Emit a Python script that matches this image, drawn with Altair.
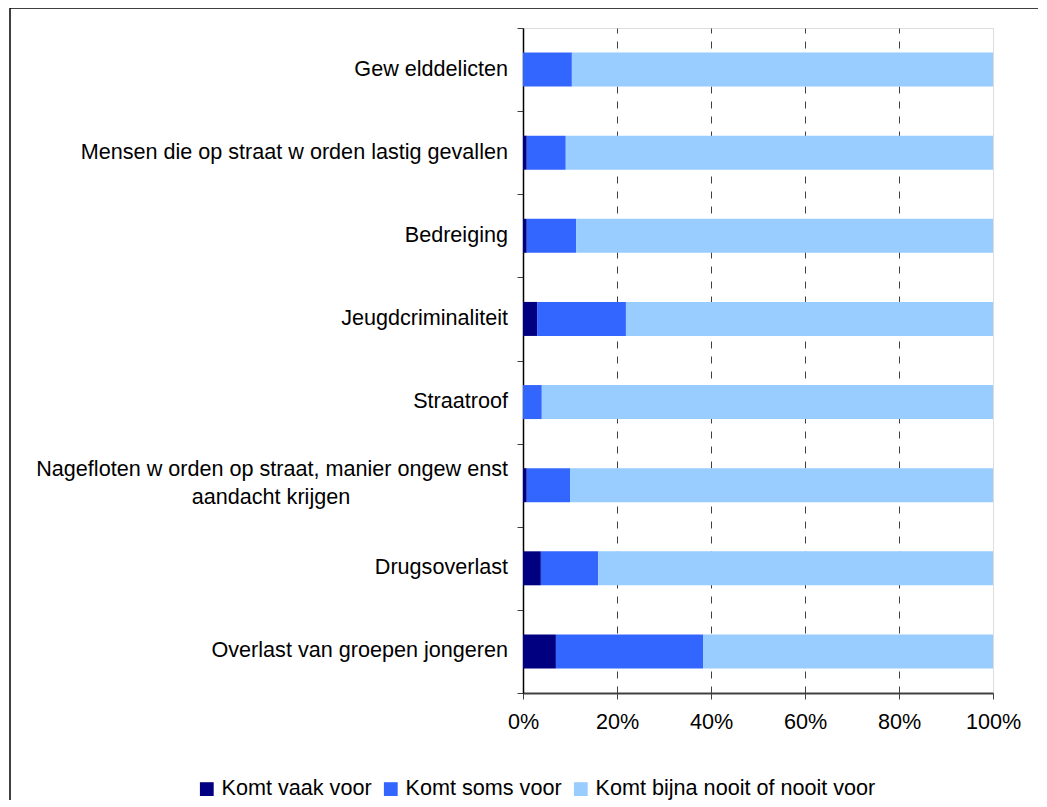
import altair as alt
import pandas as pd

categories = [
    "Gew elddelicten",
    "Mensen die op straat w orden lastig gevallen",
    "Bedreiging",
    "Jeugdcriminaliteit",
    "Straatroof",
    "Nagefloten w orden op straat, manier ongew enst",
    "Drugsoverlast",
    "Overlast van groepen jongeren",
]
second_lines = ["", "", "", "", "", "aandacht krijgen", "", ""]

series = ["Komt vaak voor", "Komt soms voor", "Komt bijna nooit of nooit voor"]
colors = ["#000080", "#3366FF", "#99CCFF"]

vaak = [0.0, 0.8, 0.8, 3.0, 0.0, 0.8, 3.8, 7.0]
soms = [10.4, 8.3, 10.5, 18.9, 4.0, 9.2, 12.2, 31.3]
nooit = [89.6, 90.9, 88.7, 78.1, 96.0, 90.0, 84.0, 61.7]

rows = []
for i, c in enumerate(categories):
    for j, (s, vals) in enumerate(zip(series, [vaak, soms, nooit])):
        rows.append({"cat": c, "serie": s, "order": j, "value": vals[i]})
df = pd.DataFrame(rows)

labels_df = pd.DataFrame({"cat": categories, "line2": second_lines})

FONT = "Liberation Sans"
FS = 21.6

y_enc = alt.Y("cat:N", sort=categories,
              scale=alt.Scale(paddingInner=0, paddingOuter=0),
              axis=alt.Axis(title=None, labels=False, tickBand="extent",
                            ticks=True, tickSize=6, tickColor="#404040",
                            domainColor="#000000", domainWidth=1.5, grid=False))

bars = alt.Chart(df).mark_bar(size=34).encode(
    x=alt.X("value:Q", stack="normalize",
            scale=alt.Scale(domain=[0, 1], nice=False),
            axis=alt.Axis(title=None, format=".0%", values=[0, 0.2, 0.4, 0.6, 0.8, 1.0],
                          grid=True, gridDash=[7, 8], gridColor="#404040", gridWidth=1,
                          gridOpacity={"condition": {"test": "datum.value == 0 || datum.value == 1", "value": 0}, "value": 1},
                          tickSize=6, tickColor="#404040", domainColor="#404040",
                          domainWidth=2, labelFontSize=FS, labelColor="#000000",
                          labelPadding=12, labelFont=FONT, labelFlush=False,
                          labelOverlap=False)),
    y=y_enc,
    color=alt.Color("serie:N", sort=series,
                    scale=alt.Scale(domain=series, range=colors),
                    legend=alt.Legend(title=None, orient="none", direction="horizontal",
                                      legendX=-327, legendY=750,
                                      symbolType="square", symbolSize=190,
                                      symbolStrokeWidth=0, labelFontSize=FS,
                                      labelFont=FONT, labelColor="#000000",
                                      labelLimit=500, columnPadding=8, labelOffset=4)),
    order=alt.Order("order:Q"),
)

text1 = alt.Chart(labels_df).transform_filter("datum.line2 == ''").mark_text(
    align="right", baseline="middle", fontSize=FS, font=FONT, color="#000000"
).encode(y=alt.Y("cat:N", sort=categories), x=alt.value(-15), text="cat:N")

text2a = alt.Chart(labels_df).transform_filter("datum.line2 != ''").mark_text(
    align="right", baseline="middle", fontSize=FS, font=FONT, color="#000000", dy=-15
).encode(y=alt.Y("cat:N", sort=categories), x=alt.value(-15), text="cat:N")

text2b = alt.Chart(labels_df).transform_filter("datum.line2 != ''").mark_text(
    align="center", baseline="middle", fontSize=FS, font=FONT, color="#000000", dy=13
).encode(y=alt.Y("cat:N", sort=categories), x=alt.value(-252), text="line2:N")

frame_data = alt.Data(values=[{"a": 1}])
frame_top = alt.Chart(frame_data).mark_rule(color="#000000", strokeWidth=1.5).encode(
    x=alt.value(-513), x2=alt.value(515), y=alt.value(-20))
frame_left = alt.Chart(frame_data).mark_rule(color="#000000", strokeWidth=1.5).encode(
    x=alt.value(-513), y=alt.value(-20), y2=alt.value(772))

chart = alt.layer(frame_top, frame_left, bars, text1, text2a, text2b).properties(
    width=470, height=665,
    autosize=alt.AutoSizeParams(type="none"),
    padding={"left": 515, "top": 20, "right": 46, "bottom": 108},
).configure_view(stroke="#808080", strokeWidth=2).configure(
    font=FONT, background="white"
)

chart.save("out.html", embed_options={"renderer": "svg", "actions": False})
